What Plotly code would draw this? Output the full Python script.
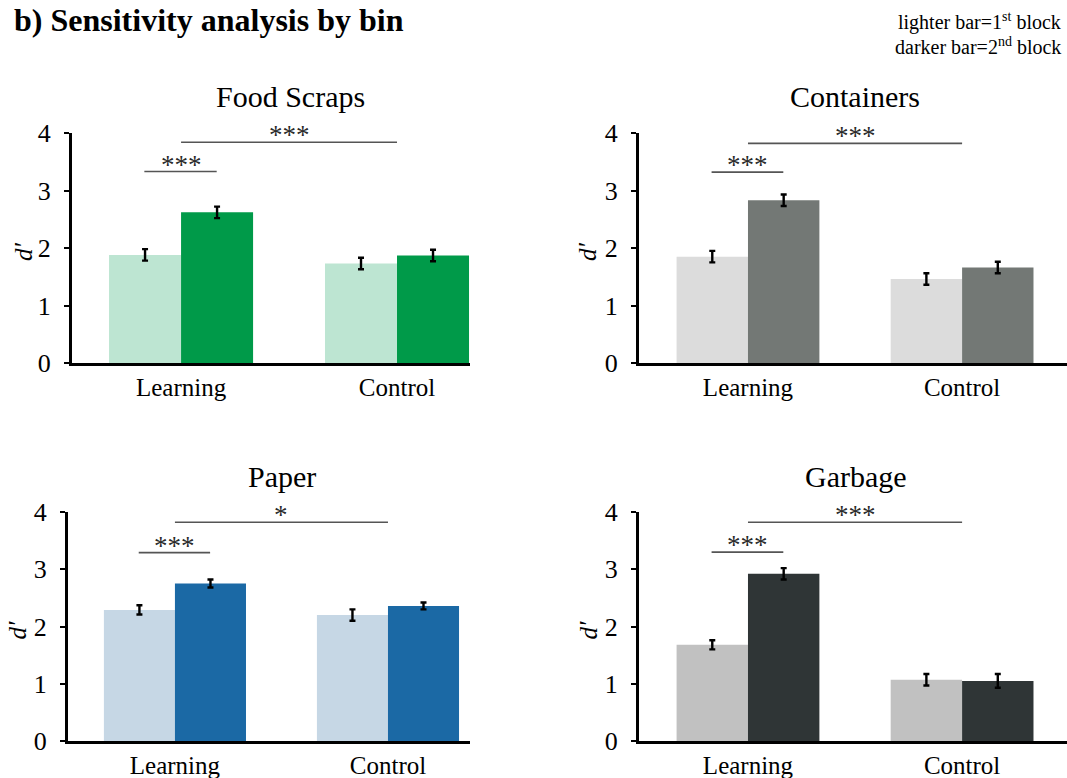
import plotly.graph_objects as go

W, H = 1067, 778
categories = ["Learning", "Control"]
panels = ["Food Scraps", "Containers", "Paper", "Garbage"]

block1_values = {
    "Food Scraps": [1.88, 1.73],
    "Containers": [1.85, 1.46],
    "Paper": [2.29, 2.20],
    "Garbage": [1.68, 1.07],
}
block2_values = {
    "Food Scraps": [2.62, 1.87],
    "Containers": [2.83, 1.66],
    "Paper": [2.75, 2.36],
    "Garbage": [2.92, 1.05],
}
block1_err = {
    "Food Scraps": [0.10, 0.10],
    "Containers": [0.10, 0.10],
    "Paper": [0.08, 0.10],
    "Garbage": [0.08, 0.10],
}
block2_err = {
    "Food Scraps": [0.10, 0.10],
    "Containers": [0.10, 0.10],
    "Paper": [0.07, 0.06],
    "Garbage": [0.10, 0.12],
}
sig_within = {"Food Scraps": ("***", 3.33), "Containers": ("***", 3.32),
              "Paper": ("***", 3.29), "Garbage": ("***", 3.30)}
sig_between = {"Food Scraps": ("***", 3.84), "Containers": ("***", 3.82),
               "Paper": ("*", 3.82), "Garbage": ("***", 3.82)}

light_colors = {"Food Scraps": "#BDE5D2", "Containers": "#DCDCDC",
                "Paper": "#C6D7E5", "Garbage": "#C1C1C1"}
dark_colors = {"Food Scraps": "#009A49", "Containers": "#737875",
               "Paper": "#1B69A5", "Garbage": "#2F3536"}

# pixel geometry: (axis_left_px, axis_right_px, y4_px, y0_px, xrange, title_x, ylabel_x)
geom = {
    "Food Scraps": (72, 470, 133, 363, [-0.505, 1.338], 290, 24),
    "Containers": (639, 1067, 133, 363, [-0.509, 1.49], 855, 588),
    "Paper": (68, 470, 512, 741, [-0.502, 1.385], 282, 17),
    "Garbage": (639, 1067, 512, 741, [-0.509, 1.49], 856, 588),
}

FONT = "Liberation Serif"
fig = go.Figure()
layout = dict(
    template="none",
    width=W, height=H, margin=dict(l=0, r=0, t=0, b=0, pad=0),
    paper_bgcolor="white", plot_bgcolor="white", showlegend=False,
    barmode="group", bargap=0.333, bargroupgap=0,
    font=dict(family=FONT, color="black"),
)
annotations = []
shapes = []

for i, name in enumerate(panels):
    k = "" if i == 0 else str(i + 1)
    xa, ya = "x" + k, "y" + k
    x0p, x1p, y4p, y0p, xr, tx, lx = geom[name]
    fig.add_trace(go.Bar(
        x=categories, y=block1_values[name], xaxis=xa, yaxis=ya,
        offsetgroup="1", marker=dict(color=light_colors[name], line=dict(width=0)),
        error_y=dict(type="data", array=block1_err[name], color="black", thickness=2.4, width=3),
    ))
    fig.add_trace(go.Bar(
        x=categories, y=block2_values[name], xaxis=xa, yaxis=ya,
        offsetgroup="2", marker=dict(color=dark_colors[name], line=dict(width=0)),
        error_y=dict(type="data", array=block2_err[name], color="black", thickness=2.4, width=3),
    ))
    layout["xaxis" + k] = dict(
        domain=[x0p / W, x1p / W], anchor=ya, range=xr, type="category",
        showline=True, linecolor="black", linewidth=3, ticks="",
        tickfont=dict(size=25, family=FONT, color="black"), showgrid=False,
        zeroline=False, automargin=False, fixedrange=True,
    )
    layout["yaxis" + k] = dict(
        domain=[1 - y0p / H, 1 - y4p / H], anchor=xa, range=[0, 4],
        tickvals=[0, 1, 2, 3, 4], showline=True, linecolor="black", linewidth=3,
        ticks="outside", ticklen=5, tickwidth=2, tickcolor="black",
        ticklabelstandoff=8,
        tickfont=dict(size=26, family=FONT, color="black"), showgrid=False,
        zeroline=False, automargin=False, fixedrange=True,
    )
    annotations.append(dict(
        text="<i>d′</i>", xref="paper", yref="paper", x=lx / W,
        y=1 - ((y4p + y0p) / 2 + 4) / H, xanchor="center", yanchor="middle",
        textangle=-90, showarrow=False,
        font=dict(size=25, family=FONT, color="black"),
    ))
    annotations.append(dict(
        text=name, xref="paper", yref="paper", x=tx / W, y=1 - (y4p - 36) / H,
        xanchor="center", yanchor="middle", showarrow=False,
        font=dict(size=30, family=FONT, color="black"),
    ))
    lab, lvl = sig_within[name]
    shapes.append(dict(type="line", xref=xa, yref=ya, x0=-0.17, x1=0.165,
                       y0=lvl, y1=lvl, line=dict(color="#555555", width=1.6)))
    annotations.append(dict(text=lab, xref=xa, yref=ya, x=0, y=lvl, yshift=7,
                            xanchor="center", yanchor="middle", showarrow=False,
                            font=dict(size=27, family=FONT, color="#2a2a2a")))
    lab, lvl = sig_between[name]
    shapes.append(dict(type="line", xref=xa, yref=ya, x0=0.0, x1=1.0,
                       y0=lvl, y1=lvl, line=dict(color="#555555", width=1.6)))
    annotations.append(dict(text=lab, xref=xa, yref=ya, x=0.5, y=lvl, yshift=7,
                            xanchor="center", yanchor="middle", showarrow=False,
                            font=dict(size=27, family=FONT, color="#2a2a2a")))

annotations.append(dict(
    text="<b>b) Sensitivity analysis by bin</b>", xref="paper", yref="paper",
    x=12 / W, y=1, xanchor="left", yanchor="top", showarrow=False,
    font=dict(size=32, family=FONT, color="black"),
))
annotations.append(dict(
    text="lighter bar=1<sup>st</sup> block", xref="paper", yref="paper",
    x=1063 / W, y=1 - 22 / H, xanchor="right", yanchor="middle", showarrow=False,
    font=dict(size=20, family=FONT, color="black"),
))
annotations.append(dict(
    text="darker bar=2<sup>nd</sup> block", xref="paper", yref="paper",
    x=1063 / W, y=1 - 46 / H, xanchor="right", yanchor="middle", showarrow=False,
    font=dict(size=20, family=FONT, color="black"),
))

layout["annotations"] = annotations
layout["shapes"] = shapes
fig.update_layout(**layout)
fig.write_html("out.html", config={"displayModeBar": False},
               post_script="document.body.style.margin='0';document.body.style.overflow='hidden';")
